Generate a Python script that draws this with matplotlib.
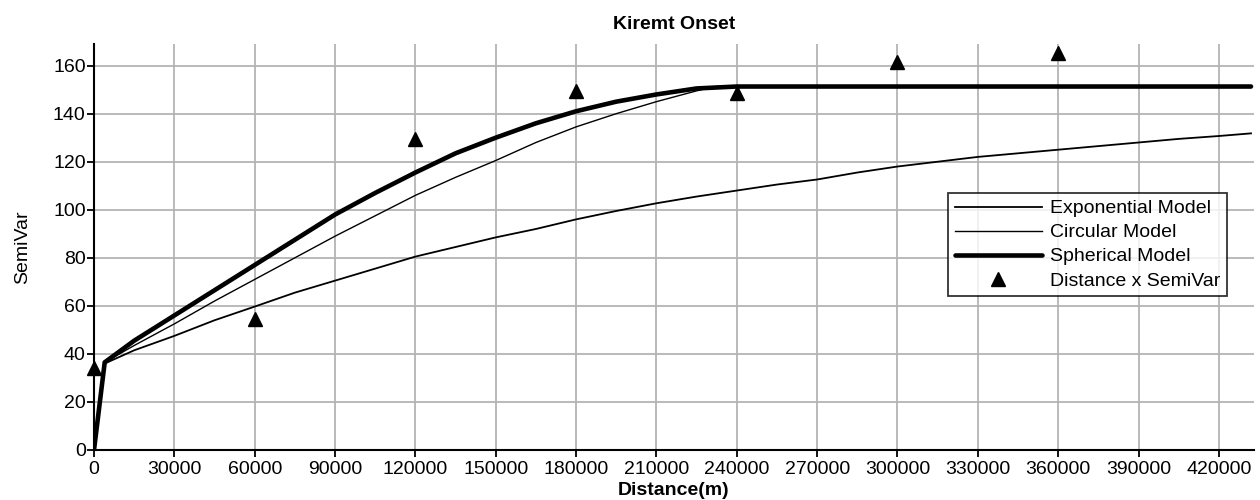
import matplotlib
matplotlib.use("Agg")
import matplotlib.pyplot as plt

plt.rcParams['font.family'] = ['Liberation Sans', 'DejaVu Sans']

# model curves (distance in m, semivariance)
exp_dist = [0, 4000, 15000, 30000, 45000, 60000, 75000, 90000, 105000, 120000,
            135000, 150000, 165000, 180000, 195000, 210000, 225000, 240000,
            255000, 270000, 285000, 300000, 315000, 330000, 345000, 360000,
            375000, 390000, 405000, 420000, 432000]
exp_semivar = [0, 36, 41.5, 47.5, 54, 59.7, 65.5, 70.5, 75.5, 80.5,
               84.5, 88.5, 92, 96, 99.5, 102.7, 105.5, 108,
               110.5, 112.6, 115.5, 118, 120, 122, 123.5, 125,
               126.5, 128, 129.5, 130.7, 131.8]

circ_dist = [0, 4000, 15000, 30000, 45000, 60000, 75000, 90000, 105000, 120000,
             135000, 150000, 165000, 180000, 195000, 210000, 225000, 232000, 432000]
circ_semivar = [0, 36.5, 43.5, 52.5, 62, 71, 80, 89, 97.5, 106,
                113.5, 120.5, 128, 134.5, 140, 145, 149.5, 151.3, 151.3]

sph_dist = [0, 4000, 15000, 30000, 45000, 60000, 75000, 90000, 105000, 120000,
            135000, 150000, 165000, 180000, 195000, 210000, 225000, 240000, 432000]
sph_semivar = [0, 36.5, 45.5, 56, 66.5, 77, 87.5, 98, 107, 115.5,
               123.5, 130, 136, 141, 145, 148, 150.5, 151.3, 151.3]

# empirical semivariogram points
pt_dist = [0, 60000, 120000, 180000, 240000, 300000, 360000]
pt_semivar = [34, 54.5, 129.4, 149.6, 148.8, 161.7, 165.4]

fig = plt.figure(figsize=(12.6, 5), dpi=100)
ax = fig.add_axes([0.0746, 0.1, 0.9204, 0.812])

ax.plot(exp_dist, exp_semivar, color='black', lw=1.3, label='Exponential Model')
ax.plot(circ_dist, circ_semivar, color='black', lw=1.0, label='Circular Model')
ax.plot(sph_dist, sph_semivar, color='black', lw=3.3, label='Spherical Model',
        solid_capstyle='round')
ax.plot(pt_dist, pt_semivar, ls='none', marker='^', ms=10, color='black',
        label='Distance x SemiVar', clip_on=False, zorder=5)

ax.set_xlim(0, 433000)
ax.set_ylim(0, 169)
ax.set_xticks(range(0, 430000, 30000))
ax.set_xticklabels([str(v) for v in range(0, 430000, 30000)])
ax.set_yticks(range(0, 161, 20))

ax.grid(True, color='#b4b4b4', lw=1.3)
ax.set_axisbelow(True)
for s in ['top', 'right']:
    ax.spines[s].set_visible(False)
for s in ['left', 'bottom']:
    ax.spines[s].set_linewidth(1.5)
ax.tick_params(labelsize=14, length=5, width=1.3)
ax.tick_params(axis='x', pad=3)
ax.tick_params(axis='y', pad=1)

ax.set_title('Kiremt Onset', fontsize=14, fontweight='bold', pad=11)
ax.set_xlabel('Distance(m)', fontsize=14, fontweight='bold', labelpad=3)
ax.set_ylabel('SemiVar', fontsize=14, labelpad=16)

leg = ax.legend(loc='upper right', bbox_to_anchor=(0.977, 0.633), fontsize=14,
                frameon=True, fancybox=False, edgecolor='black',
                handlelength=4.5, handletextpad=0.4, borderpad=0.35,
                borderaxespad=0, labelspacing=0.33)
leg.get_frame().set_linewidth(1.3)

fig.savefig('out.png', dpi=100)
